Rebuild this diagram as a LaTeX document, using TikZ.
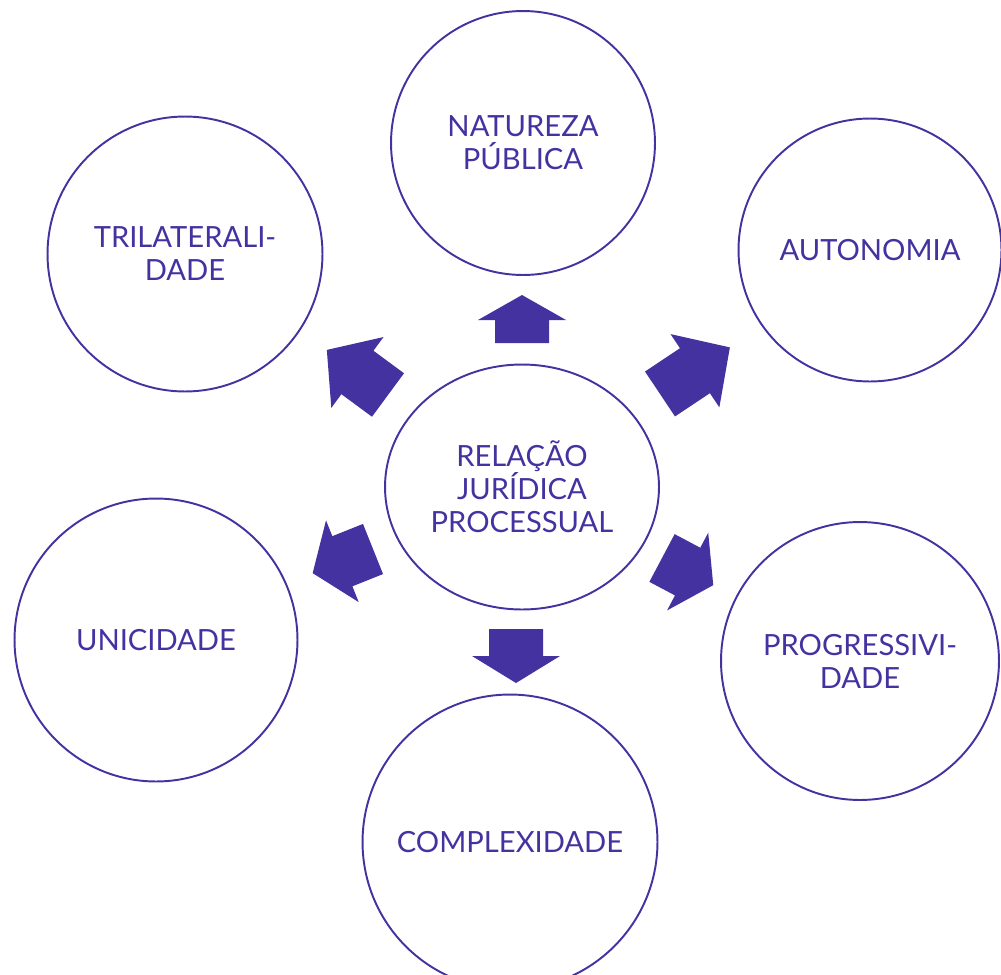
\documentclass[tikz,border=0pt]{standalone}
\usepackage{fontspec}
\setmainfont{Lato}
\usetikzlibrary{shapes.geometric}
\definecolor{ind}{HTML}{4332A0}
\newcommand{\blockarr}[4]{%
  \begin{scope}[shift={#1},rotate=#2]
    \fill[ind] (0,-27) -- ({#3-#4},-27) -- ({#3-#4},-44) -- (#3,0) -- ({#3-#4},44) -- ({#3-#4},27) -- (0,27) -- cycle;
  \end{scope}}
\begin{document}
\begin{tikzpicture}[x=0.02cm,y=-0.02cm,
  bub/.style={circle,draw=ind,line width=1.1pt,inner sep=0pt,align=center,text=ind,
    font=\fontsize{16.6}{18.8}\selectfont},
]
\useasboundingbox (0,0) rectangle (1001,974);
\node[bub,ellipse,minimum width=5.48cm,minimum height=4.9cm] (c) at (522,487) {RELAÇÃO\\JURÍDICA\\PROCESSUAL};
\node[bub,minimum size=5.28cm] (nat) at (523,143) {NATUREZA\\PÚBLICA};
\node[bub,minimum size=5.26cm] (aut) at (870,250) {AUTONOMIA};
\node[bub,minimum size=5.5cm] (tri) at (185,254) {TRILATERALI-\\DADE};
\node[bub,minimum size=5.66cm] (uni) at (156,640) {UNICIDADE};
\node[bub,minimum size=5.56cm] (pro) at (860,661) {PROGRESSIVI-\\DADE};
\node[bub,minimum size=5.9cm] (com) at (510,842) {COMPLEXIDADE};
\blockarr{(522,343)}{90}{48}{25}
\blockarr{(516,629)}{-90}{54}{27}
\blockarr{(660,394)}{33.7}{84}{42}
\blockarr{(388,395)}{143.6}{76}{38}
\blockarr{(373,549)}{201.8}{65}{32}
\blockarr{(662,558)}{-27.9}{58}{29}
\end{tikzpicture}
\end{document}
